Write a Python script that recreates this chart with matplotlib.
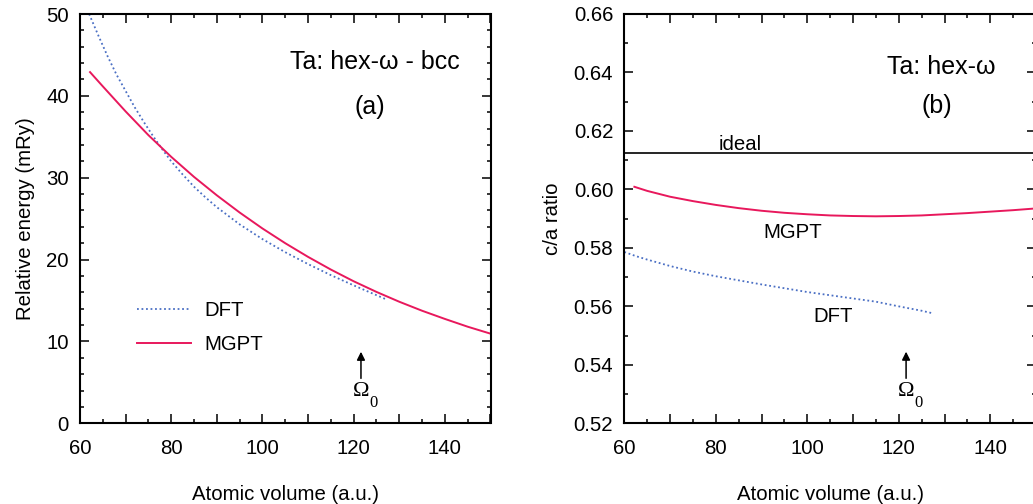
import matplotlib
matplotlib.use("Agg")
import matplotlib.pyplot as plt
from matplotlib.ticker import MultipleLocator

# ---- data (panel a) ----
dft_a_x = [62.0, 64, 66, 68, 70, 72, 74, 76, 78, 80, 82.5, 85, 87.5, 90, 95, 100,
           105, 110, 115, 120, 125, 127.3]
dft_a_y = [50.0, 47.4, 44.9, 42.6, 40.6, 38.6, 36.8, 35.1, 33.5, 32.0, 30.4, 28.9,
           27.6, 26.4, 24.3, 22.5, 20.9, 19.45, 18.1, 16.85, 15.65, 15.1]
mgpt_a_x = [62.2, 65, 70, 75, 80, 85, 90, 95, 100, 105, 110, 115, 120, 125, 130,
            135, 140, 145, 150]
mgpt_a_y = [42.9, 41.16, 38.1, 35.2, 32.55, 30.1, 27.85, 25.75, 23.8, 22.0, 20.33,
            18.78, 17.35, 16.05, 14.85, 13.75, 12.75, 11.8, 10.95]

# ---- data (panel b) ----
dft_b_x = [60, 62.5, 65, 70, 75, 80, 85, 90, 95, 100, 105, 110, 115, 120, 125, 127.5]
dft_b_y = [0.5786, 0.5772, 0.5760, 0.5738, 0.5719, 0.5703, 0.5689, 0.5675, 0.5662,
           0.5649, 0.5638, 0.5627, 0.5616, 0.5600, 0.5585, 0.5576]
mgpt_b_x = [62.2, 65, 70, 75, 80, 85, 90, 95, 100, 105, 110, 115, 120, 125, 130,
            135, 140, 145, 150]
mgpt_b_y = [0.6009, 0.5995, 0.5975, 0.5960, 0.5947, 0.5936, 0.5927, 0.5920, 0.5915,
            0.5911, 0.5909, 0.5908, 0.5909, 0.5911, 0.5915, 0.5919, 0.5924, 0.5929,
            0.5935]
ideal_ca = 0.6124
omega0 = 121.6

xticks = [60, 80, 100, 120, 140]
yticks_a = [0, 10, 20, 30, 40, 50]
yticks_b = [0.52, 0.54, 0.56, 0.58, 0.60, 0.62, 0.64, 0.66]

plt.rcParams['font.family'] = ['Liberation Sans', 'DejaVu Sans']
FS = 14.7
TFS = 18
MG = '#e8185c'
DF = '#4a6fc4'
SERIF = ['Liberation Serif', 'DejaVu Serif']

W, H = 1033, 504
fig = plt.figure(figsize=(W / 100, H / 100), dpi=100)

def px_axes(x0, x1, y0, y1):
    return fig.add_axes([x0 / W, 1 - y1 / H, (x1 - x0) / W, (y1 - y0) / H])

axa = px_axes(80, 490.5, 14, 423.3)
axb = px_axes(624.3, 1036, 14, 423.3)

for ax in (axa, axb):
    ax.set_xlim(60, 150)
    ax.xaxis.set_minor_locator(MultipleLocator(5))
    ax.set_xticks(list(range(60, 151, 10)))
    ax.set_xticklabels([str(v) if v in xticks else '' for v in range(60, 151, 10)])
    ax.tick_params(which='both', direction='in', top=True, right=True, labelsize=FS)
    ax.tick_params(axis='x', which='both', pad=11)
    ax.tick_params(axis='y', which='both', pad=8)
    ax.tick_params(which='major', length=6.5, width=1.1)
    ax.tick_params(which='minor', length=3, width=1.1)
    for s in ax.spines.values():
        s.set_linewidth(1.5)
    ax.set_xlabel('Atomic volume (a.u.)', fontsize=FS, labelpad=19.5)

# panel a
axa.set_ylim(0, 50)
axa.set_yticks(yticks_a)
axa.yaxis.set_minor_locator(MultipleLocator(2))
axa.plot(dft_a_x, dft_a_y, color=DF, lw=1.3, ls=(0, (1, 1.5)), label='DFT')
axa.plot(mgpt_a_x, mgpt_a_y, color=MG, lw=1.4, label='MGPT')
axa.set_ylabel('Relative energy (mRy)', fontsize=FS, labelpad=8)
axa.text(0.719, 0.883, 'Ta: hex-ω - bcc', transform=axa.transAxes, fontsize=TFS,
         ha='center', va='center')
axa.text(0.706, 0.773, '(a)', transform=axa.transAxes, fontsize=TFS, ha='center', va='center')
axa.legend(loc='upper left', bbox_to_anchor=(0.14, 0.298), frameon=False, fontsize=FS,
           handlelength=2.6, handletextpad=0.69, labelspacing=0.71,
           borderpad=0, borderaxespad=0)

# panel b
axb.set_ylim(0.52, 0.66)
axb.set_yticks(yticks_b)
axb.set_yticklabels([f'{v:.2f}' for v in yticks_b])
axb.yaxis.set_minor_locator(MultipleLocator(0.01))
axb.axhline(ideal_ca, color='black', lw=1.2)
axb.plot(dft_b_x, dft_b_y, color=DF, lw=1.3, ls=(0, (1, 1.5)))
axb.plot(mgpt_b_x, mgpt_b_y, color=MG, lw=1.4)
axb.set_ylabel('c/a ratio', fontsize=FS, labelpad=8)
axb.text(0.769, 0.870, 'Ta: hex-ω', transform=axb.transAxes, fontsize=TFS,
         ha='center', va='center')
axb.text(0.759, 0.775, '(b)', transform=axb.transAxes, fontsize=TFS, ha='center', va='center')
axb.text(85.3, 0.6136, 'ideal', fontsize=FS, ha='center', va='baseline')
axb.text(96.9, 0.5854, 'MGPT', fontsize=FS, ha='center', va='center')
axb.text(105.7, 0.5567, 'DFT', fontsize=FS, ha='center', va='center')

# Omega_0 markers
markers = (
    (axa, 5.49, 8.74, 3.86, 2.48),
    (axb, 0.5354, 0.5445, 0.5308, 0.5269),
)
for ax, lo, hi, ty, sy in markers:
    ax.annotate('', xy=(omega0, hi), xytext=(omega0, lo),
                arrowprops=dict(arrowstyle='-|>', color='black', lw=1.1,
                                mutation_scale=12, shrinkA=0, shrinkB=0))
    ax.text(omega0, ty, 'Ω', fontsize=16, ha='center', va='center', family=SERIF)
    ax.text(omega0 + 2.7, sy, '0', fontsize=12, ha='center', va='center', family=SERIF)

fig.savefig('out.png', dpi=100)
